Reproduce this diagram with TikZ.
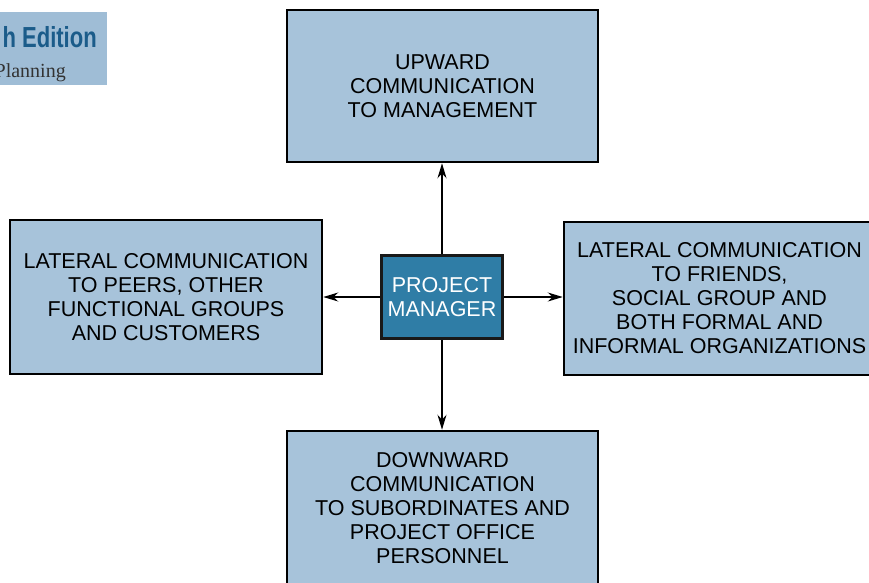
\documentclass[tikz,border=0pt]{standalone}
\usepackage{fontspec}
\setmainfont{Liberation Sans}
\newfontfamily\serifhdr{Liberation Serif}
\usetikzlibrary{arrows.meta}
\definecolor{boxblue}{HTML}{A7C3DA}
\definecolor{pmblue}{HTML}{2F7DA6}
\definecolor{hdrblue}{HTML}{9FBDD6}
\definecolor{hdrtext}{HTML}{1B5C8A}
\tikzset{
  commbox/.style={draw=black, line width=2.5pt, fill=boxblue, align=center,
    font=\fontsize{21.5}{24}\selectfont, inner sep=0pt},
  pmbox/.style={draw=black!90, line width=3.5pt, fill=pmblue, text=white, align=center,
    font=\fontsize{21.5}{24}\selectfont, inner sep=0pt,
    minimum width=121pt, minimum height=83pt},
  flow/.style={line width=1.2pt, -{Stealth[length=15pt,width=9pt]}}
}
\begin{document}
\begin{tikzpicture}[x=1pt,y=-1pt]
\useasboundingbox (0,0) rectangle (869,582);
\clip (0,0) rectangle (869,582);
% header fragment
\fill[hdrblue] (0,12) rectangle (107,85);
\node[anchor=base east, inner sep=0pt, text=hdrtext, font=\bfseries\fontsize{29}{29}\selectfont] (hdr1) at (97,47) {\scalebox{0.76}[1]{h Edition}};
\node[anchor=base east, inner sep=0pt, font=\serifhdr\fontsize{20}{20}\selectfont, text=black!80] (hdr2) at (66,77) {Planning};
% boxes
\node[commbox, minimum width=311pt, minimum height=152pt] (up) at (442.5,86) {UPWARD\\COMMUNICATION\\TO MANAGEMENT};
\node[commbox, minimum width=312pt, minimum height=154pt] (left) at (166,297) {LATERAL COMMUNICATION\\TO PEERS, OTHER\\FUNCTIONAL GROUPS\\AND CUSTOMERS};
\node[commbox, minimum width=311pt, minimum height=153pt] (right) at (719.5,298.5) {LATERAL COMMUNICATION\\TO FRIENDS,\\SOCIAL GROUP AND\\BOTH FORMAL AND\\INFORMAL ORGANIZATIONS};
\node[commbox, minimum width=311pt, minimum height=154pt] (down) at (442.5,508) {DOWNWARD\\COMMUNICATION\\TO SUBORDINATES AND\\PROJECT OFFICE\\PERSONNEL};
\node[pmbox] (pm) at (442,297) {PROJECT\\MANAGER};
% connectors
\draw[flow] (pm.north) -- (pm.north |- up.south);
\draw[flow] (pm.south) -- (pm.south |- down.north);
\draw[flow] (pm.west) -- (pm.west -| left.east);
\draw[flow] (pm.east) -- (pm.east -| right.west);
\end{tikzpicture}
\end{document}
